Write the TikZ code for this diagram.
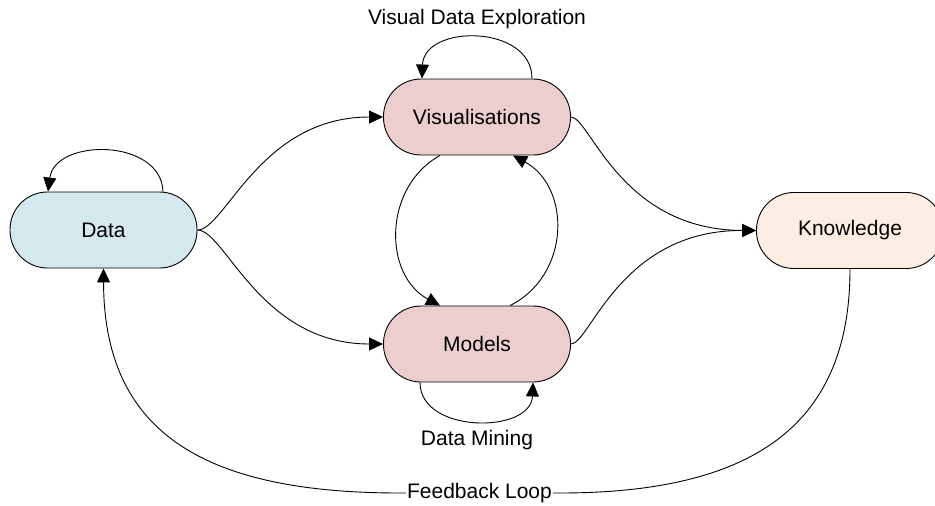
\documentclass[tikz,border=0pt]{standalone}
\usepackage{fontspec}
\setmainfont{Liberation Sans}
\usetikzlibrary{arrows.meta,calc}
\definecolor{dataC}{RGB}{211,233,238}
\definecolor{midC}{RGB}{236,206,206}
\definecolor{knowC}{RGB}{253,238,227}
\tikzset{
  pill/.style={draw=black, line width=0.9pt, rounded corners=37.5pt, minimum width=187pt, minimum height=76pt, inner sep=0pt, font=\fontsize{21}{25}\selectfont},
  lbl/.style={font=\fontsize{21}{25}\selectfont, inner sep=1pt},
  conn/.style={draw=black, line width=0.9pt, -{Triangle[length=14pt,width=13pt]}},
}
\begin{document}
\begin{tikzpicture}[x=1pt,y=-1pt]
\useasboundingbox (0,0) rectangle (935,506);
\node[pill, fill=dataC] (d) at (103.5,230) {Data};
\node[pill, fill=midC] (v) at (477,117) {Visualisations};
\node[pill, fill=midC] (m) at (477,344) {Models};
\node[pill, fill=knowC] (k) at (850,230.5) {Knowledge};
\node[lbl] (lv) at (477,19) {Visual Data Exploration};
\node[lbl] (lm) at (477,440) {Data Mining};
% self loops
\draw[conn] ($(d.north)+(59.5,0)$) .. controls (161,138) and (55,138) .. ($(d.north)+(-55.5,0)$);
\draw[conn] ($(v.north)+(55,0)$) .. controls (532,24) and (424,24) .. ($(v.north)+(-55,0)$);
\draw[conn] ($(m.south)+(-57,0)$) .. controls (420,434) and (531,434) .. ($(m.south)+(56,0)$);
% data to middle
\draw[conn] (d.east) .. controls (225,230) and (260,117) .. (v.west);
\draw[conn] (d.east) .. controls (225,230) and (260,344) .. (m.west);
% vis <-> models
\draw[conn] ($(v.south)+(-37,0)$) .. controls (383,187) and (383,275) .. ($(m.north)+(-37,0)$);
\draw[conn] ($(m.north)+(33,0)$) .. controls (571,275) and (571,187) .. ($(v.south)+(36,0)$);
% to knowledge
\draw[conn] (v.east) .. controls (590,117) and (620,230) .. (k.west);
\draw[conn] (m.east) .. controls (590,344) and (620,230) .. (k.west);
% feedback
\draw[conn] (k.south) .. controls (850,420) and (760,493) .. (560,493) -- (400,493) .. controls (200,493) and (104,430) .. (d.south);
\node[lbl, fill=white] (fbl) at (479.5,493) {Feedback Loop};
\end{tikzpicture}
\end{document}
